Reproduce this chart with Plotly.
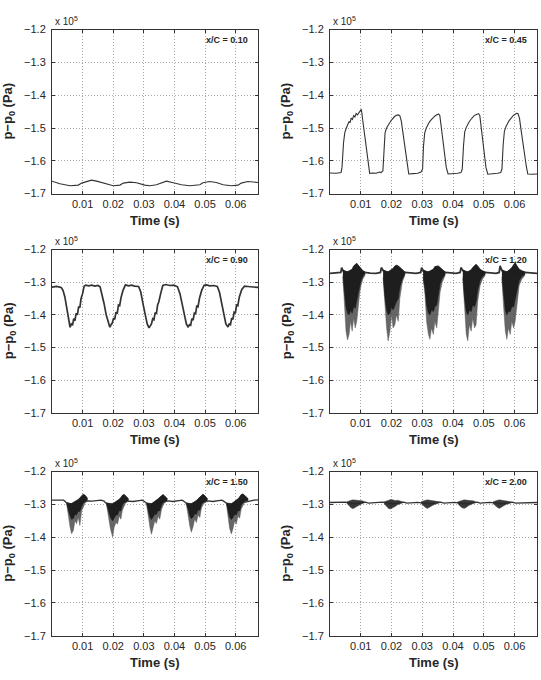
import plotly.graph_objects as go

W, H = 541, 680

# ---------------- data (pressure in units of 1e5 Pa, time in s) ----------------
labels = ["x/C = 0.10", "x/C = 0.45", "x/C = 0.90", "x/C = 1.20", "x/C = 1.50", "x/C = 2.00"]
x_ticks = [0.01, 0.02, 0.03, 0.04, 0.05, 0.06]
x_ticktext = ["0.01", "0.02", "0.03", "0.04", "0.05", "0.06"]
y_ticks = [-1.7, -1.6, -1.5, -1.4, -1.3, -1.2]
y_ticktext = ["\u22121.7", "\u22121.6", "\u22121.5", "\u22121.4", "\u22121.3", "\u22121.2"]

# x/C = 0.10
t010 = [0, 0.0026, 0.0059, 0.0086, 0.0097, 0.0113, 0.0129, 0.0146, 0.0173, 0.0200, 0.0222, 0.0233,
        0.0254, 0.0276, 0.0303, 0.0320, 0.0341, 0.0358, 0.0374, 0.0396, 0.0423, 0.0450, 0.0483,
        0.0493, 0.0515, 0.0537, 0.0559, 0.0586, 0.0608, 0.0618, 0.0640, 0.0673]
p010 = [-1.662, -1.670, -1.676, -1.674, -1.668, -1.664, -1.659, -1.662, -1.670, -1.676, -1.674, -1.668,
        -1.665, -1.667, -1.674, -1.676, -1.673, -1.667, -1.662, -1.667, -1.673, -1.676, -1.673,
        -1.667, -1.663, -1.666, -1.673, -1.676, -1.674, -1.668, -1.663, -1.666]

# x/C = 0.45
t045 = [0, 0.0020, 0.0036, 0.0039, 0.0044, 0.0048, 0.0053, 0.0058, 0.0062, 0.0065, 0.0069, 0.0073,
        0.0077, 0.0081, 0.0085, 0.0089, 0.0094, 0.0098, 0.0102, 0.0107, 0.0113, 0.0119, 0.0124, 0.0129,
        0.0140, 0.0150, 0.0160, 0.0166, 0.0172, 0.0175, 0.0179, 0.0184, 0.0189, 0.0194, 0.0200, 0.0205,
        0.0210, 0.0216, 0.0222, 0.0227, 0.0232, 0.0238, 0.0244, 0.0250, 0.0256,
        0.0270, 0.0285, 0.0296, 0.0301, 0.0304, 0.0308, 0.0313, 0.0318, 0.0323, 0.0328, 0.0333, 0.0338,
        0.0343, 0.0348, 0.0353, 0.0357, 0.0362, 0.0367, 0.0372, 0.0378, 0.0384,
        0.0400, 0.0415, 0.0426, 0.0430, 0.0434, 0.0438, 0.0443, 0.0448, 0.0453, 0.0458, 0.0463, 0.0468,
        0.0473, 0.0478, 0.0483, 0.0487, 0.0492, 0.0497, 0.0502, 0.0507, 0.0513,
        0.0530, 0.0545, 0.0555, 0.0559, 0.0563, 0.0567, 0.0572, 0.0577, 0.0582, 0.0587, 0.0592, 0.0597,
        0.0602, 0.0607, 0.0611, 0.0616, 0.0621, 0.0627, 0.0632, 0.0638, 0.0643, 0.0655, 0.0673]
p045 = [-1.637, -1.638, -1.636, -1.620, -1.545, -1.515, -1.500, -1.490, -1.480, -1.484, -1.470, -1.474,
        -1.462, -1.466, -1.456, -1.460, -1.452, -1.446, -1.443, -1.480, -1.520, -1.560, -1.600, -1.638,
        -1.637, -1.638, -1.634, -1.636, -1.630, -1.560, -1.515, -1.500, -1.490, -1.484, -1.476, -1.470,
        -1.465, -1.461, -1.460, -1.462, -1.480, -1.520, -1.565, -1.605, -1.640,
        -1.639, -1.638, -1.634, -1.625, -1.555, -1.515, -1.500, -1.490, -1.482, -1.476, -1.470, -1.466,
        -1.462, -1.458, -1.457, -1.462, -1.500, -1.550, -1.590, -1.620, -1.640,
        -1.640, -1.638, -1.636, -1.625, -1.555, -1.512, -1.498, -1.488, -1.480, -1.474, -1.468, -1.463,
        -1.460, -1.457, -1.456, -1.462, -1.500, -1.550, -1.590, -1.620, -1.641,
        -1.640, -1.638, -1.636, -1.625, -1.550, -1.510, -1.496, -1.486, -1.478, -1.472, -1.466, -1.461,
        -1.458, -1.455, -1.456, -1.470, -1.505, -1.545, -1.585, -1.615, -1.640, -1.641, -1.640]

# x/C = 0.90
t090 = [0, 0.0015, 0.0030, 0.0036, 0.0042, 0.0048, 0.0054, 0.0059, 0.0063, 0.0067, 0.0071, 0.0075,
        0.0079, 0.0083, 0.0087, 0.0091, 0.0095, 0.0100, 0.0105, 0.0110, 0.0120, 0.0130, 0.0140, 0.0150,
        0.0157, 0.0163, 0.0170, 0.0177, 0.0184, 0.0189, 0.0193, 0.0197, 0.0201, 0.0205, 0.0209, 0.0213,
        0.0217, 0.0221, 0.0226, 0.0232, 0.0240, 0.0250, 0.0260, 0.0270, 0.0283, 0.0290, 0.0297, 0.0304,
        0.0311, 0.0317, 0.0321, 0.0325, 0.0329, 0.0333, 0.0337, 0.0341, 0.0345, 0.0349, 0.0355, 0.0362,
        0.0372, 0.0385, 0.0398, 0.0410, 0.0418, 0.0425, 0.0432, 0.0439, 0.0445, 0.0449, 0.0453, 0.0457,
        0.0461, 0.0465, 0.0469, 0.0473, 0.0477, 0.0482, 0.0489, 0.0497, 0.0505, 0.0515, 0.0528, 0.0540,
        0.0547, 0.0554, 0.0561, 0.0568, 0.0575, 0.0579, 0.0583, 0.0587, 0.0591, 0.0595, 0.0599, 0.0603,
        0.0607, 0.0612, 0.0620, 0.0629, 0.0640, 0.0655, 0.0673]
p090 = [-1.315, -1.313, -1.316, -1.325, -1.345, -1.375, -1.410, -1.438, -1.428, -1.432, -1.412, -1.418,
        -1.395, -1.400, -1.375, -1.378, -1.350, -1.335, -1.312, -1.309, -1.311, -1.309, -1.312, -1.310,
        -1.314, -1.335, -1.365, -1.400, -1.428, -1.438, -1.430, -1.425, -1.410, -1.414, -1.392, -1.396,
        -1.370, -1.372, -1.345, -1.325, -1.308, -1.311, -1.309, -1.312, -1.313, -1.330, -1.365, -1.400,
        -1.428, -1.440, -1.432, -1.428, -1.412, -1.415, -1.393, -1.397, -1.370, -1.360, -1.335, -1.310,
        -1.307, -1.310, -1.309, -1.314, -1.335, -1.368, -1.402, -1.428, -1.438, -1.430, -1.432, -1.412,
        -1.416, -1.395, -1.398, -1.372, -1.375, -1.348, -1.325, -1.309, -1.308, -1.311, -1.310, -1.313,
        -1.330, -1.365, -1.400, -1.428, -1.437, -1.428, -1.430, -1.410, -1.414, -1.392, -1.395, -1.370,
        -1.372, -1.345, -1.322, -1.312, -1.313, -1.315, -1.316]

# x/C = 1.20 : mean line + burst envelopes (upper, dense core limit, lower spike tips)
t120 = [0, 0.0020, 0.0035, 0.0038, 0.0042, 0.0080, 0.0113, 0.0130, 0.0150, 0.0164, 0.0167, 0.0173,
        0.0210, 0.0243, 0.0260, 0.0280, 0.0295, 0.0298, 0.0303, 0.0340, 0.0374, 0.0390, 0.0410, 0.0423,
        0.0426, 0.0432, 0.0470, 0.0504, 0.0520, 0.0540, 0.0550, 0.0553, 0.0559, 0.0600, 0.0633, 0.0650, 0.0673]
p120 = [-1.273, -1.272, -1.270, -1.255, -1.265, -1.275, -1.270, -1.272, -1.273, -1.270, -1.255, -1.265,
        -1.275, -1.270, -1.272, -1.273, -1.270, -1.255, -1.265, -1.275, -1.270, -1.272, -1.273, -1.270,
        -1.255, -1.265, -1.275, -1.270, -1.272, -1.273, -1.270, -1.250, -1.265, -1.275, -1.270, -1.272, -1.273]
b120_t = [
    [0.0042, 0.0047, 0.0052, 0.0057, 0.0062, 0.0067, 0.0072, 0.0077, 0.0082, 0.0087, 0.0092, 0.0097, 0.0102, 0.0107, 0.0113],
    [0.0173, 0.0178, 0.0184, 0.0189, 0.0195, 0.0200, 0.0205, 0.0211, 0.0216, 0.0222, 0.0227, 0.0235, 0.0243],
    [0.0303, 0.0309, 0.0314, 0.0320, 0.0325, 0.0330, 0.0336, 0.0341, 0.0347, 0.0352, 0.0358, 0.0365, 0.0374],
    [0.0432, 0.0437, 0.0443, 0.0448, 0.0453, 0.0459, 0.0464, 0.0470, 0.0475, 0.0480, 0.0488, 0.0496, 0.0504],
    [0.0559, 0.0564, 0.0570, 0.0575, 0.0580, 0.0586, 0.0591, 0.0597, 0.0602, 0.0608, 0.0615, 0.0624, 0.0633],
]
b120_up = [
    [-1.262, -1.265, -1.268, -1.268, -1.265, -1.262, -1.260, -1.250, -1.245, -1.242, -1.248, -1.255, -1.260, -1.265, -1.268],
    [-1.262, -1.265, -1.268, -1.268, -1.265, -1.260, -1.258, -1.250, -1.248, -1.250, -1.255, -1.262, -1.268],
    [-1.262, -1.265, -1.268, -1.268, -1.265, -1.262, -1.260, -1.252, -1.250, -1.250, -1.255, -1.262, -1.268],
    [-1.262, -1.265, -1.268, -1.268, -1.265, -1.262, -1.255, -1.250, -1.245, -1.250, -1.260, -1.265, -1.268],
    [-1.262, -1.265, -1.268, -1.268, -1.265, -1.260, -1.255, -1.245, -1.240, -1.250, -1.260, -1.265, -1.268],
]
b120_mid = [
    [-1.282, -1.330, -1.375, -1.395, -1.400, -1.385, -1.395, -1.375, -1.380, -1.365, -1.335, -1.310, -1.292, -1.282, -1.276],
    [-1.285, -1.340, -1.385, -1.400, -1.395, -1.375, -1.385, -1.370, -1.360, -1.350, -1.315, -1.290, -1.276],
    [-1.285, -1.320, -1.370, -1.395, -1.400, -1.385, -1.390, -1.375, -1.370, -1.340, -1.305, -1.288, -1.276],
    [-1.285, -1.345, -1.390, -1.400, -1.385, -1.390, -1.370, -1.375, -1.360, -1.325, -1.295, -1.282, -1.276],
    [-1.285, -1.340, -1.385, -1.400, -1.390, -1.390, -1.375, -1.375, -1.360, -1.330, -1.295, -1.282, -1.276],
]
b120_lo = [
    [-1.285, -1.370, -1.450, -1.477, -1.460, -1.420, -1.450, -1.410, -1.440, -1.420, -1.370, -1.330, -1.305, -1.290, -1.280],
    [-1.290, -1.360, -1.440, -1.480, -1.450, -1.400, -1.440, -1.430, -1.400, -1.420, -1.350, -1.300, -1.280],
    [-1.290, -1.340, -1.420, -1.460, -1.475, -1.440, -1.460, -1.420, -1.440, -1.380, -1.330, -1.300, -1.280],
    [-1.290, -1.380, -1.460, -1.480, -1.430, -1.450, -1.410, -1.440, -1.430, -1.360, -1.310, -1.290, -1.280],
    [-1.290, -1.370, -1.450, -1.475, -1.440, -1.460, -1.420, -1.440, -1.420, -1.370, -1.310, -1.290, -1.280],
]

# x/C = 1.50
t150 = [0, 0.0030, 0.0038, 0.0044, 0.0048, 0.0080, 0.0118, 0.0130, 0.0145, 0.0160, 0.0170, 0.0176,
        0.0210, 0.0250, 0.0265, 0.0280, 0.0295, 0.0303, 0.0308, 0.0340, 0.0380, 0.0395, 0.0410, 0.0425,
        0.0433, 0.0438, 0.0470, 0.0512, 0.0525, 0.0540, 0.0555, 0.0564, 0.0569, 0.0600, 0.0648, 0.0660, 0.0673]
p150 = [-1.287, -1.286, -1.287, -1.292, -1.296, -1.300, -1.289, -1.290, -1.288, -1.287, -1.290, -1.296,
        -1.300, -1.290, -1.291, -1.288, -1.287, -1.292, -1.296, -1.300, -1.289, -1.291, -1.288, -1.287,
        -1.292, -1.296, -1.300, -1.289, -1.291, -1.288, -1.287, -1.292, -1.296, -1.300, -1.289, -1.287, -1.286]
b150_t = [
    [0.0048, 0.0053, 0.0059, 0.0064, 0.0070, 0.0075, 0.0080, 0.0086, 0.0091, 0.0097, 0.0102, 0.0108, 0.0115],
    [0.0178, 0.0184, 0.0191, 0.0198, 0.0203, 0.0209, 0.0214, 0.0220, 0.0225, 0.0230, 0.0236, 0.0241, 0.0249],
    [0.0309, 0.0314, 0.0320, 0.0325, 0.0330, 0.0336, 0.0341, 0.0347, 0.0352, 0.0358, 0.0363, 0.0368, 0.0376],
    [0.0439, 0.0445, 0.0450, 0.0455, 0.0461, 0.0466, 0.0472, 0.0477, 0.0483, 0.0488, 0.0493, 0.0499, 0.0507],
    [0.0570, 0.0575, 0.0580, 0.0586, 0.0591, 0.0597, 0.0602, 0.0608, 0.0613, 0.0618, 0.0624, 0.0629, 0.0640],
]
b150_up = [
    [-1.294, -1.296, -1.298, -1.297, -1.294, -1.292, -1.289, -1.285, -1.280, -1.275, -1.269, -1.272, -1.280],
    [-1.295, -1.298, -1.300, -1.298, -1.295, -1.292, -1.288, -1.284, -1.279, -1.272, -1.270, -1.274, -1.282],
    [-1.295, -1.298, -1.300, -1.298, -1.295, -1.292, -1.288, -1.283, -1.278, -1.272, -1.270, -1.274, -1.282],
    [-1.295, -1.298, -1.300, -1.298, -1.295, -1.292, -1.288, -1.283, -1.277, -1.271, -1.269, -1.273, -1.282],
    [-1.295, -1.298, -1.300, -1.298, -1.295, -1.292, -1.288, -1.283, -1.277, -1.270, -1.268, -1.273, -1.282],
]
b150_mid = [
    [-1.298, -1.315, -1.335, -1.345, -1.342, -1.330, -1.332, -1.320, -1.322, -1.305, -1.296, -1.290, -1.287],
    [-1.298, -1.318, -1.340, -1.350, -1.340, -1.332, -1.332, -1.318, -1.320, -1.302, -1.294, -1.290, -1.287],
    [-1.298, -1.318, -1.338, -1.346, -1.340, -1.330, -1.330, -1.318, -1.320, -1.302, -1.294, -1.290, -1.287],
    [-1.298, -1.315, -1.335, -1.343, -1.338, -1.328, -1.330, -1.316, -1.318, -1.300, -1.294, -1.290, -1.287],
    [-1.298, -1.318, -1.338, -1.346, -1.340, -1.330, -1.332, -1.318, -1.320, -1.302, -1.294, -1.290, -1.287],
]
b150_lo = [
    [-1.300, -1.329, -1.369, -1.389, -1.379, -1.349, -1.359, -1.339, -1.364, -1.319, -1.309, -1.295, -1.290],
    [-1.300, -1.335, -1.375, -1.399, -1.370, -1.355, -1.360, -1.335, -1.345, -1.318, -1.305, -1.295, -1.290],
    [-1.300, -1.335, -1.370, -1.391, -1.372, -1.350, -1.358, -1.335, -1.345, -1.315, -1.303, -1.294, -1.290],
    [-1.300, -1.330, -1.365, -1.385, -1.368, -1.345, -1.355, -1.332, -1.340, -1.312, -1.302, -1.294, -1.290],
    [-1.300, -1.335, -1.372, -1.390, -1.375, -1.350, -1.360, -1.335, -1.342, -1.315, -1.303, -1.294, -1.290],
]

# x/C = 2.00
t200 = [0, 0.0040, 0.0050, 0.0080, 0.0115, 0.0125, 0.0140, 0.0160, 0.0170, 0.0205, 0.0240, 0.0250,
        0.0265, 0.0285, 0.0325, 0.0360, 0.0370, 0.0385, 0.0405, 0.0445, 0.0478, 0.0488, 0.0503, 0.0520,
        0.0560, 0.0593, 0.0603, 0.0620, 0.0640, 0.0673]
p200 = [-1.294, -1.294, -1.293, -1.298, -1.293, -1.296, -1.295, -1.294, -1.293, -1.298, -1.293, -1.296,
        -1.295, -1.294, -1.298, -1.293, -1.296, -1.295, -1.294, -1.298, -1.293, -1.296, -1.295, -1.294,
        -1.298, -1.293, -1.296, -1.295, -1.294, -1.294]
b200_t = [
    [0.0055, 0.0062, 0.0068, 0.0075, 0.0082, 0.0090, 0.0098, 0.0106, 0.0113],
    [0.0176, 0.0183, 0.0190, 0.0197, 0.0204, 0.0212, 0.0220, 0.0229, 0.0237],
    [0.0296, 0.0303, 0.0310, 0.0317, 0.0324, 0.0332, 0.0340, 0.0349, 0.0357],
    [0.0415, 0.0422, 0.0429, 0.0436, 0.0443, 0.0450, 0.0458, 0.0466, 0.0474],
    [0.0530, 0.0537, 0.0544, 0.0551, 0.0558, 0.0565, 0.0573, 0.0582, 0.0590],
]
b200_up = [
    [-1.292, -1.289, -1.287, -1.286, -1.287, -1.288, -1.287, -1.289, -1.292],
    [-1.292, -1.289, -1.287, -1.285, -1.286, -1.288, -1.287, -1.289, -1.292],
    [-1.292, -1.289, -1.287, -1.286, -1.287, -1.287, -1.288, -1.290, -1.292],
    [-1.292, -1.289, -1.288, -1.286, -1.287, -1.288, -1.287, -1.289, -1.292],
    [-1.292, -1.289, -1.287, -1.286, -1.287, -1.288, -1.288, -1.290, -1.292],
]
b200_lo = [
    [-1.297, -1.305, -1.310, -1.313, -1.309, -1.305, -1.300, -1.297, -1.295],
    [-1.298, -1.306, -1.312, -1.314, -1.310, -1.306, -1.301, -1.297, -1.295],
    [-1.297, -1.304, -1.309, -1.312, -1.309, -1.304, -1.300, -1.297, -1.295],
    [-1.297, -1.305, -1.310, -1.312, -1.309, -1.304, -1.300, -1.297, -1.295],
    [-1.297, -1.304, -1.309, -1.312, -1.308, -1.304, -1.300, -1.297, -1.295],
]

# ---------------- layout geometry (pixels) ----------------
col_px = [(52, 258), (330, 537)]
row_px = [(24, 191), (248, 414), (474, 641)]

FONT = "Liberation Sans, Arial, Helvetica, sans-serif"
INK = "#262626"
LINE = "#333333"


def px(x):
    return x / W


def py(y):
    return 1 - y / H


fig = go.Figure()
lines = [(t010, p010), (t045, p045), (t090, p090), (t120, p120), (t150, p150), (t200, p200)]
widths = [1.1, 1.1, 1.7, 1.8, 1.3, 1.3]
# (times, upper, lower) for the outer (sparse spike) layer, and (times, upper, core) for dense core
bursts_outer = {3: (b120_t, b120_up, b120_lo), 4: (b150_t, b150_up, b150_lo), 5: (b200_t, b200_up, b200_lo)}
bursts_core = {3: (b120_t, b120_up, b120_mid), 4: (b150_t, b150_up, b150_mid)}


def add_fill(bt, bu, bl, xa, ya, color, edge):
    for k in range(len(bt)):
        fig.add_trace(go.Scatter(x=bt[k] + bt[k][::-1], y=bu[k] + bl[k][::-1], mode="lines",
                                 fill="toself", fillcolor=color,
                                 line=dict(color=edge, width=0.6),
                                 xaxis=xa, yaxis=ya, showlegend=False, hoverinfo="skip"))


annotations = []
layout = {}
for i in range(6):
    r, c = divmod(i, 2)
    n = i + 1
    xa = "x" if n == 1 else f"x{n}"
    ya = "y" if n == 1 else f"y{n}"
    tt, pp = lines[i]
    fig.add_trace(go.Scatter(x=tt, y=pp, mode="lines", xaxis=xa, yaxis=ya,
                             line=dict(color=LINE, width=widths[i]), showlegend=False, hoverinfo="skip"))
    if i in bursts_outer:
        bt, bu, bl = bursts_outer[i]
        outer_col = "rgba(75,75,75,0.85)" if i in bursts_core else "rgba(40,40,40,0.92)"
        add_fill(bt, bu, bl, xa, ya, outer_col, "rgba(90,90,90,0.8)")
    if i in bursts_core:
        bt, bu, bm = bursts_core[i]
        add_fill(bt, bu, bm, xa, ya, "rgba(28,28,28,0.97)", "rgba(28,28,28,0.97)")
    x0, x1 = col_px[c]
    y0, y1 = row_px[r]
    axis_common = dict(showline=True, linecolor=LINE, linewidth=1, mirror="ticks",
                       ticks="inside", ticklen=3, tickcolor=LINE,
                       showgrid=True, gridcolor="#a8a8a8", griddash="1px,2px", gridwidth=1,
                       zeroline=False, tickfont=dict(family=FONT, size=11, color=INK))
    layout["xaxis" if n == 1 else f"xaxis{n}"] = dict(
        domain=[px(x0), px(x1)], range=[0, 0.0673], anchor=ya,
        tickvals=x_ticks, ticktext=x_ticktext, ticklabelstandoff=0, **axis_common)
    layout["yaxis" if n == 1 else f"yaxis{n}"] = dict(
        domain=[py(y1), py(y0)], range=[-1.7, -1.2], anchor=xa,
        tickvals=y_ticks, ticktext=y_ticktext, ticklabelstandoff=3, **axis_common)

    # x-axis title
    annotations.append(dict(xref="paper", yref="paper", x=px((x0 + x1) / 2), y=py(y1 + 27),
                            text="<b>Time (s)</b>", showarrow=False, xanchor="center", yanchor="middle",
                            font=dict(family=FONT, size=13, color=INK)))
    # y-axis title
    annotations.append(dict(xref="paper", yref="paper", x=px(x0 - 43), y=py((y0 + y1) / 2),
                            text="<b>p\u2212p<sub>0</sub> (Pa)</b>", showarrow=False, textangle=-90,
                            xanchor="center", yanchor="middle",
                            font=dict(family=FONT, size=13, color=INK)))
    # exponent
    annotations.append(dict(xref="paper", yref="paper", x=px(x0 + 1), y=py(y0 - 1),
                            text="x 10<sup>5</sup>", showarrow=False, xanchor="left", yanchor="bottom",
                            font=dict(family=FONT, size=10, color=INK)))
    # x/C label
    annotations.append(dict(xref="paper", yref="paper", x=px(x1 - 8), y=py(y0 + 11),
                            text=f"<b>{labels[i]}</b>", showarrow=False, xanchor="right", yanchor="middle",
                            font=dict(family=FONT, size=9, color=INK)))

fig.update_layout(width=W, height=H, margin=dict(l=0, r=0, t=0, b=0),
                  paper_bgcolor="white", plot_bgcolor="white",
                  annotations=annotations, showlegend=False, **layout)

fig.write_html("out.html")
